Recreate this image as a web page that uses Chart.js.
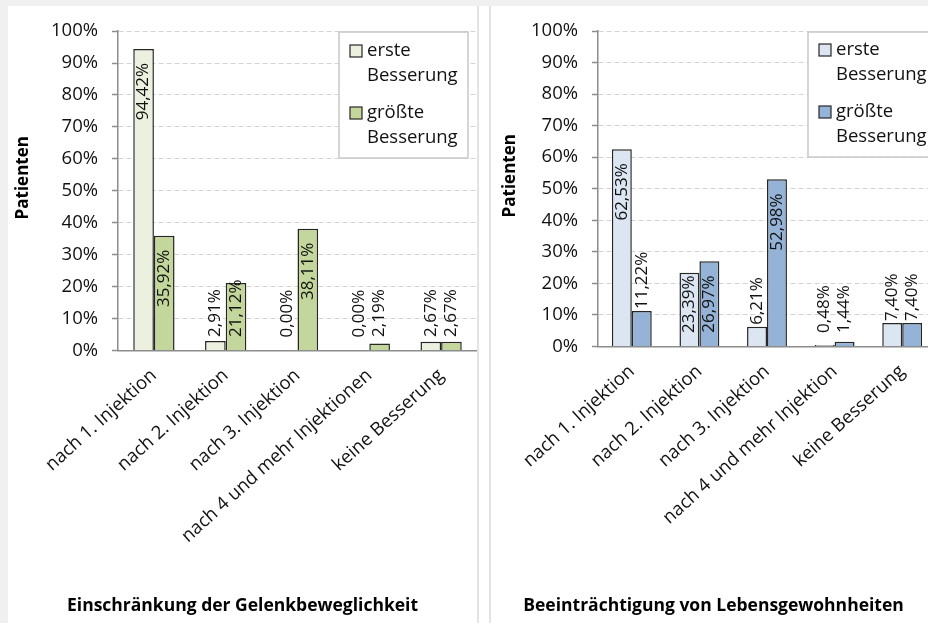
<!DOCTYPE html>
<html>
<head>
<meta charset="utf-8">
<script src="https://cdn.jsdelivr.net/npm/chart.js@4.4.0/dist/chart.umd.min.js"></script>
<style>
html, body { margin: 0; padding: 0; width: 928px; height: 623px; overflow: hidden; background: #f0f0f0; }
#sheet { position: absolute; left: 8px; top: 6px; width: 940px; height: 617px; background: #fff; }
.sep { position: absolute; top: 0; width: 2px; height: 617px; background: #e4e4e4; }
canvas { position: absolute; top: 0; }
</style>
</head>
<body>
<div id="sheet">
  <canvas id="chartLeft" width="469" height="617" style="left:0"></canvas>
  <div class="sep" style="left:469px"></div>
  <div class="sep" style="left:481px"></div>
  <canvas id="chartRight" width="445" height="617" style="left:483px"></canvas>
</div>
<script>
// Daten
const serien = ['erste Besserung', 'größte Besserung'];
const kategorienGelenk = ['nach 1. Injektion', 'nach 2. Injektion', 'nach 3. Injektion', 'nach 4 und mehr Injektionen', 'keine Besserung'];
const gelenkErste = [94.42, 2.91, 0.00, 0.00, 2.67];
const gelenkGroesste = [35.92, 21.12, 38.11, 2.19, 2.67];

const kategorienLeben = ['nach 1. Injektion', 'nach 2. Injektion', 'nach 3. Injektion', 'nach 4 und mehr Injektion', 'keine Besserung'];
const lebenErste = [62.53, 23.39, 6.21, 0.48, 7.40];
const lebenGroesste = [11.22, 26.97, 52.98, 1.44, 7.40];

const yTicks = [0, 10, 20, 30, 40, 50, 60, 70, 80, 90, 100];
const yTitel = 'Patienten';

const FONT = "'Open Sans', sans-serif";
const TEXT = '#111111';
const AXIS = '#8c8c8c';

function prozent(v) {
    return v.toFixed(2).replace('.', ',') + '%';
}

// Werte senkrecht an die Balken schreiben
const balkenWerte = {
    id: 'balkenWerte',
    afterDatasetsDraw(chart) {
        const ctx = chart.ctx;
        ctx.save();
        ctx.font = '17px ' + FONT;
        ctx.fillStyle = TEXT;
        ctx.textAlign = 'left';
        ctx.textBaseline = 'middle';
        chart.data.datasets.forEach((ds, i) => {
            chart.getDatasetMeta(i).data.forEach((bar, j) => {
                const text = prozent(ds.data[j]);
                const w = ctx.measureText(text).width;
                const hoehe = bar.base - bar.y;
                let ende;
                if (hoehe < w) {
                    ende = Math.min(bar.y - 2, bar.base - 13);
                } else {
                    ende = Math.min(bar.y + 14 + w, bar.base - 13);
                }
                ctx.save();
                ctx.translate(bar.x, ende);
                ctx.rotate(-Math.PI / 2);
                ctx.fillText(text, 0, 0);
                ctx.restore();
            });
        });
        ctx.restore();
    }
};

// Legende im Diagramm
const legendeBox = {
    id: 'legendeBox',
    afterDraw(chart, args, opts) {
        const ctx = chart.ctx;
        ctx.save();
        ctx.fillStyle = '#ffffff';
        ctx.fillRect(opts.x, opts.y, opts.w, opts.h);
        ctx.strokeStyle = '#c8c8c8';
        ctx.lineWidth = 1.5;
        ctx.strokeRect(opts.x, opts.y, opts.w, opts.h);
        ctx.font = '18.5px ' + FONT;
        ctx.textBaseline = 'middle';
        ctx.textAlign = 'left';
        chart.data.datasets.forEach((ds, i) => {
            const y0 = opts.y + opts.firstRow + i * opts.itemGap;
            ctx.fillStyle = ds.backgroundColor;
            ctx.fillRect(opts.x + 11, y0 - 6, 12, 12);
            ctx.strokeStyle = '#262626';
            ctx.lineWidth = 1.2;
            ctx.strokeRect(opts.x + 11, y0 - 6, 12, 12);
            ctx.fillStyle = TEXT;
            ds.label.split(' ').forEach((teil, k) => {
                ctx.fillText(teil, opts.x + 28, y0 + k * opts.lineGap);
            });
        });
        ctx.restore();
    }
};

// Achsentitel links, etwas über der Mitte wie im Original
const achsenTitel = {
    id: 'achsenTitel',
    afterDraw(chart, args, opts) {
        const ctx = chart.ctx;
        const a = chart.chartArea;
        ctx.save();
        ctx.font = 'bold 17px ' + FONT;
        ctx.fillStyle = '#000';
        ctx.textAlign = 'center';
        ctx.textBaseline = 'middle';
        ctx.translate(opts.x, (a.top + a.bottom) / 2 + opts.dy);
        ctx.rotate(-Math.PI / 2);
        ctx.fillText(opts.text, 0, 0);
        ctx.restore();
    }
};

function baueDiagramm(id, kategorien, erste, groesste, farben, titel, m) {
    const ctx = document.getElementById(id).getContext('2d');
    return new Chart(ctx, {
        type: 'bar',
        data: {
            labels: kategorien,
            datasets: [{
                label: serien[0],
                data: erste,
                backgroundColor: farben[0],
                borderColor: '#262626',
                borderWidth: 1.5,
                borderSkipped: 'bottom'
            }, {
                label: serien[1],
                data: groesste,
                backgroundColor: farben[1],
                borderColor: '#262626',
                borderWidth: 1.5,
                borderSkipped: 'bottom'
            }]
        },
        options: {
            responsive: false,
            animation: false,
            categoryPercentage: m.catPct,
            barPercentage: 1.0,
            layout: { padding: { top: m.top, left: 0, right: 0, bottom: 0 } },
            plugins: {
                legend: { display: false },
                tooltip: { enabled: false },
                title: {
                    display: true,
                    position: 'bottom',
                    text: titel,
                    color: '#000',
                    font: { family: FONT, size: 17.5, weight: 'bold' },
                    padding: { top: 0, bottom: 6 }
                },
                legendeBox: m.legende,
                achsenTitel: { text: yTitel, x: m.titleX, dy: -13 }
            },
            scales: {
                x: {
                    grid: { display: false },
                    border: { display: true, color: AXIS, width: 1.5 },
                    ticks: {
                        autoSkip: false,
                        minRotation: 42,
                        maxRotation: 42,
                        color: TEXT,
                        font: { family: FONT, size: 18.5 },
                        padding: m.xPad
                    },
                    afterFit(scale) { scale.height = m.xHeight; }
                },
                y: {
                    min: 0,
                    max: 100,
                    afterBuildTicks(scale) { scale.ticks = yTicks.map(v => ({ value: v })); },
                    ticks: {
                        color: TEXT,
                        font: { family: FONT, size: 18.5 },
                        padding: 14,
                        callback: v => v + '%'
                    },
                    grid: {
                        color: '#d4d4d4',
                        tickLength: 6,
                        tickColor: AXIS,
                        tickWidth: 1.5,
                        tickBorderDash: []
                    },
                    border: { display: true, color: AXIS, width: 1.5, dash: [5, 3] },
                    afterFit(scale) { scale.width = m.yWidth; }
                }
            }
        },
        plugins: [balkenWerte, legendeBox, achsenTitel]
    });
}

baueDiagramm('chartLeft', kategorienGelenk, gelenkErste, gelenkGroesste,
    ['#ebf1de', '#c3d69b'], 'Einschränkung der Gelenkbeweglichkeit',
    { catPct: 0.575, top: 23, yWidth: 110, xHeight: 245.6, xPad: 6, titleX: 15,
      legende: { x: 331, y: 26, w: 129, h: 126, firstRow: 19, lineGap: 25, itemGap: 62 } });

baueDiagramm('chartRight', kategorienLeben, lebenErste, lebenGroesste,
    ['#dce6f2', '#95b3d7'], 'Beeinträchtigung von Lebensgewohnheiten',
    { catPct: 0.59, top: 23, yWidth: 107, xHeight: 249.6, xPad: 6, titleX: 19,
      legende: { x: 317, y: 26, w: 129, h: 125, firstRow: 18, lineGap: 25, itemGap: 62 } });
</script>
</body>
</html>
